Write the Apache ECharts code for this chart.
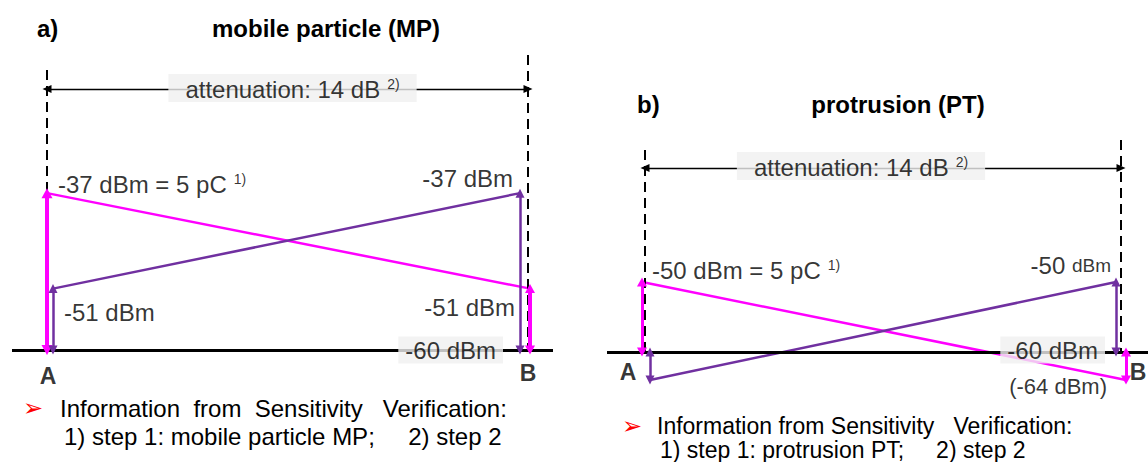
<!DOCTYPE html>
<html><head><meta charset="utf-8">
<script src="https://cdn.jsdelivr.net/npm/echarts@6/dist/echarts.min.js"></script>
<style>html,body{margin:0;padding:0;background:#fff}#c{width:1148px;height:462px}</style>
</head><body><div id="c"></div>
<script>
// ---------------- data ----------------
const positions = ['A', 'B'];
const mpTitle = 'mobile particle (MP)';
const mpMagenta = [-37, -51];   // calibrator at A, measured A -> B
const mpPurple = [-51, -37];    // calibrator at B, measured A -> B
const mpNoiseFloor = -60;
const mpAttenuation = 14;
const ptTitle = 'protrusion (PT)';
const ptMagenta = [-50, -64];
const ptPurple = [-64, -50];
const ptNoiseFloor = -60;
const ptAttenuation = 14;
const calibCharge = '5 pC';
const noteHead = 'Information  from  Sensitivity   Verification:';
const noteHeadB = 'Information from Sensitivity   Verification:';
const mpNote = '1) step 1: mobile particle MP;     2) step 2';
const ptNote = '1) step 1: protrusion PT;     2) step 2';

// ---------------- style / layout ----------------
const MAG = '#ff00ff', PUR = '#7030a0', INK = '#000000', BOX = '#f0f0f0';
const FONT = '"Liberation Sans", Arial, sans-serif';
const FS = 24;
const layouts = [
  {left: 12, right: 553, top: 20, bottom: 400, aPx: 47, bPx: 528, floorPx: 350, ppd: 6.82,
   attPx: 89, dashTopPx: [70, 55], off: {magA: 0, purA: 6, purB: -8, magB: 2}},
  {left: 607, right: 1148, top: 20, bottom: 400, aPx: 645, bPx: 1121, floorPx: 352, ppd: 7.0,
   attPx: 168, dashTopPx: [150, 140], off: {magA: -3, purA: 5, purB: -5, magB: 5}}
];

const rich = {
  s: {fontSize: 14, fontFamily: FONT, color: INK, verticalAlign: 'top', padding: [0, 0, 0, 7]},
  u: {fontSize: 19, fontFamily: FONT, color: INK}
};

function lab(x, y, text, align, off, extra) {
  return {
    value: [x, y],
    label: Object.assign({
      show: true, position: 'inside', align: align, verticalAlign: 'middle', offset: off,
      formatter: text, color: INK, fontFamily: FONT, fontSize: FS, rich: rich,
      textBorderWidth: 0
    }, extra || {})
  };
}

function arrow(x, y0, y1, color, width, size) {
  const ls = {color: color, width: width, type: 'solid'};
  return [{coord: [x, y0], lineStyle: ls, symbol: 'triangle', symbolSize: size},
          {coord: [x, y1], lineStyle: ls, symbol: 'triangle', symbolSize: size}];
}

function buildPanel(i, magenta, purple, floor, att, texts) {
  const L = layouts[i];
  const span = L.bPx - L.aPx;
  const xU = px => (px - L.aPx) / span;
  const dx = px => px / span;
  const yV = px => floor + (L.floorPx - px) / L.ppd;
  const xMagA = 0 + dx(L.off.magA), xPurA = 0 + dx(L.off.purA);
  const xPurB = 1 + dx(L.off.purB), xMagB = 1 + dx(L.off.magB);
  const attY = yV(L.attPx);

  const grid = {left: L.left, top: L.top, width: L.right - L.left, height: L.bottom - L.top};
  const xAxis = {gridIndex: i, type: 'value', min: xU(L.left), max: xU(L.right), show: false};
  const yAxis = {gridIndex: i, type: 'value', min: yV(L.bottom), max: yV(L.top), show: false};
  const base = {xAxisIndex: i, yAxisIndex: i, silent: true, animation: false};

  const series = [];
  // frame: floor, dashed A/B verticals, attenuation double arrow
  series.push(Object.assign({
    type: 'line', data: [[0, floor], [1, floor]], showSymbol: false, lineStyle: {opacity: 0},
    markLine: {
      silent: true, animation: false, label: {show: false},
      symbol: ['none', 'none'],
      data: [
        {yAxis: floor, lineStyle: {color: INK, width: 3, type: 'solid'}},
        [{coord: [0, yV(L.dashTopPx[0])], lineStyle: {color: INK, width: 2, type: [10, 6]}}, {coord: [0, floor]}],
        [{coord: [1, yV(L.dashTopPx[1])], lineStyle: {color: INK, width: 2, type: [10, 6]}}, {coord: [1, floor]}],
        [{coord: [0, attY], symbol: 'triangle', symbolSize: [8, 9], lineStyle: {color: INK, width: 1.3, type: 'solid'}},
         {coord: [1, attY], symbol: 'triangle', symbolSize: [8, 9]}]
      ]
    }
  }, base));

  // magenta signal
  series.push(Object.assign({
    type: 'line', data: [[xMagA, magenta[0]], [xMagB, magenta[1]]], showSymbol: false,
    lineStyle: {color: MAG, width: 2.5}, z: 3,
    markLine: {
      silent: true, animation: false, label: {show: false}, symbol: ['triangle', 'triangle'], symbolSize: [10, 9],
      data: [arrow(xMagA, floor, magenta[0], MAG, i === 0 ? 4 : 3, i === 0 ? [11, 10] : [10, 9]),
             arrow(xMagB, floor, magenta[1], MAG, i === 0 ? 4 : 3, [10, 9])]
    }
  }, base));
  // purple signal
  series.push(Object.assign({
    type: 'line', data: [[xPurA, purple[0]], [xPurB, purple[1]]], showSymbol: false,
    lineStyle: {color: PUR, width: 2.5}, z: 3,
    markLine: {
      silent: true, animation: false, label: {show: false}, symbol: ['triangle', 'triangle'], symbolSize: [9, 9],
      data: [arrow(xPurA, floor, purple[0], PUR, 2.5, [9, 9]),
             arrow(xPurB, floor, purple[1], PUR, 2.5, [9, 9])]
    }
  }, base));

  // labels
  const pts = {magA: [xMagA, magenta[0]], magB: [xMagB, magenta[1]], purA: [xPurA, purple[0]], purB: [xPurB, purple[1]],
               floorA: [0, floor], floorB: [1, floor], att: [0.5, attY]};
  series.push(Object.assign({
    type: 'scatter', symbolSize: 1, itemStyle: {color: 'rgba(0,0,0,0)'}, z: 10,
    data: texts.map(t => lab(pts[t.at][0], pts[t.at][1], t.text, t.align, t.off, t.extra))
  }, base));

  return {grid, xAxis, yAxis, series};
}

const boxStyle = {backgroundColor: BOX, padding: [2, 7, 1, 7]};
const attBox = {backgroundColor: BOX, padding: [3, 17, 1, 17]};
const bigBold = {fontWeight: 'bold', fontSize: 23};
const panelA = buildPanel(0, mpMagenta, mpPurple, mpNoiseFloor, mpAttenuation, [
  {at: 'att', text: `attenuation: ${mpAttenuation} dB{s|2)}`, align: 'center', off: [5, -1], extra: attBox},
  {at: 'magA', text: `${mpMagenta[0]} dBm = ${calibCharge}{s|1)}`, align: 'left', off: [11, -9]},
  {at: 'purB', text: `${mpPurple[1]} dBm`, align: 'right', off: [-7, -15]},
  {at: 'purA', text: `${mpPurple[0]} dBm`, align: 'left', off: [11, 24]},
  {at: 'magB', text: `${mpMagenta[1]} dBm`, align: 'right', off: [-15, 19]},
  {at: 'floorB', text: `${mpNoiseFloor} dBm`, align: 'right', off: [-25, 0], extra: boxStyle},
  {at: 'floorA', text: positions[0], align: 'center', off: [1, 26], extra: bigBold},
  {at: 'floorB', text: positions[1], align: 'center', off: [0, 23], extra: bigBold}
]);
const panelB = buildPanel(1, ptMagenta, ptPurple, ptNoiseFloor, ptAttenuation, [
  {at: 'att', text: `attenuation: ${ptAttenuation} dB{s|2)}`, align: 'center', off: [-22, -2], extra: attBox},
  {at: 'magA', text: `${ptMagenta[0]} dBm = ${calibCharge}{s|1)}`, align: 'left', off: [10, -12]},
  {at: 'purB', text: `${ptPurple[1]} {u|dBm}`, align: 'right', off: [-5, -17]},
  {at: 'floorB', text: `${ptNoiseFloor} dBm`, align: 'right', off: [-16, -2], extra: boxStyle},
  {at: 'magB', text: `(${ptMagenta[1]} dBm)`, align: 'right', off: [-19, 6], extra: {fontSize: 22}},
  {at: 'floorA', text: positions[0], align: 'center', off: [-17, 20], extra: bigBold},
  {at: 'floorB', text: positions[1], align: 'center', off: [17, 20], extra: bigBold}
]);

function txt(x, y, text, align, font, fill) {
  return {type: 'text', x: x, y: y, silent: true,
    style: {text: text, font: font, fill: fill || INK, align: align, verticalAlign: 'middle',
            textAlign: align, textVerticalAlign: 'middle'}};
}
const bold = 'bold 24px ' + FONT, norm = FS + 'px ' + FONT, normB = '23px ' + FONT;
const bullet = '24px "DejaVu Sans", sans-serif';

const option = {
  animation: false,
  backgroundColor: '#ffffff',
  grid: [panelA.grid, panelB.grid],
  xAxis: [panelA.xAxis, panelB.xAxis],
  yAxis: [panelA.yAxis, panelB.yAxis],
  series: panelA.series.concat(panelB.series),
  graphic: [
    txt(37, 28, 'a)', 'left', bold),
    txt(326, 28, mpTitle, 'center', bold),
    txt(637, 104, 'b)', 'left', bold),
    txt(898, 104, ptTitle, 'center', bold),
    txt(23, 408, '\u27A2', 'left', bullet, '#ff0000'),
    txt(60, 408, noteHead, 'left', norm),
    txt(64, 436, mpNote, 'left', norm),
    txt(622, 426, '\u27A2', 'left', bullet, '#ff0000'),
    txt(657, 426, noteHeadB, 'left', normB),
    txt(660, 450, ptNote, 'left', normB)
  ]
};

const chart = echarts.init(document.getElementById('c'), null, {renderer: 'svg', width: 1148, height: 462});
chart.setOption(option);
</script></body></html>
